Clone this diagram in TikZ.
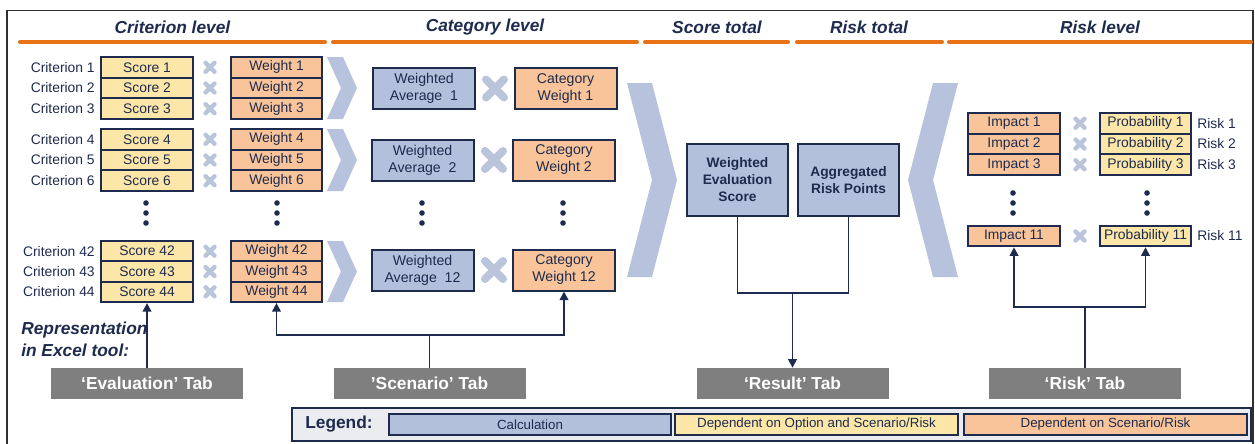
\documentclass[tikz,border=0pt]{standalone}
\usepackage{fontspec}
\setmainfont{Liberation Sans}
\usetikzlibrary{arrows.meta}

\definecolor{inkblue}{HTML}{1E2B4E}
\definecolor{paleyellow}{HTML}{FCE7A8}
\definecolor{paleorange}{HTML}{F9C499}
\definecolor{calcblue}{HTML}{B3C0DC}
\definecolor{chevblue}{HTML}{B7C3DD}
\definecolor{markblue}{HTML}{BAC5DC}
\definecolor{rulecol}{HTML}{E97217}
\definecolor{tabgray}{HTML}{7F7F7F}
\definecolor{legendbg}{HTML}{EBECEF}
\definecolor{framecol}{HTML}{303030}

\tikzset{
  cell/.style={draw=inkblue, line width=1.5pt, inner sep=0pt, text=inkblue,
    font=\fontsize{10.4}{12}\selectfont, align=center},
  ycell/.style={cell, fill=paleyellow, minimum width=69pt, minimum height=15.4pt},
  ocell/.style={cell, fill=paleorange, minimum width=68.25pt, minimum height=15.4pt},
  wcell/.style={cell, fill=paleorange, minimum width=76.5pt, minimum height=30.75pt,
    font=\fontsize{10.6}{12.75}\selectfont},
  acell/.style={cell, fill=calcblue, minimum width=76.5pt, minimum height=30.75pt,
    font=\fontsize{10.6}{12.75}\selectfont},
  totcell/.style={cell, fill=calcblue, minimum width=75.75pt, minimum height=54pt,
    font=\bfseries\fontsize{10.3}{12.75}\selectfont},
  sidelabel/.style={text=inkblue, inner sep=0pt, font=\fontsize{10.4}{12}\selectfont},
  heading/.style={text=inkblue, inner sep=0pt, font=\bfseries\itshape\fontsize{13}{15}\selectfont},
  tabbox/.style={fill=tabgray, text=white, inner sep=0pt, minimum width=144pt,
    minimum height=23.25pt, font=\bfseries\fontsize{13}{15}\selectfont},
  legcell/.style={cell, line width=1.3pt, minimum width=212pt, minimum height=15.75pt,
    font=\fontsize{10}{12}\selectfont},
  levelrule/.style={draw=rulecol, line width=3pt, line cap=round},
  chevron/.style={fill=chevblue},
  conn/.style={draw=inkblue, line width=1.4pt},
  arr/.style={conn, -{Triangle[length=6.5pt,width=6.5pt]}},
  dotmark/.style={fill=inkblue},
  smallx/.pic={\draw[markblue, line width=3.3pt, line cap=round]
    (-4.5,-4.5) -- (4.5,4.5) (-4.5,4.5) -- (4.5,-4.5);},
  bigx/.pic={\draw[markblue, line width=6pt, line cap=round]
    (-9,-9) -- (9,9) (-9,9) -- (9,-9);}
}

\begin{document}
\begin{tikzpicture}[x=0.75pt,y=-0.75pt]
\useasboundingbox (0,0) rectangle (1255,443);

% outer frame
\draw[framecol, line width=1pt] (7,444) -- (7,10.5) -- (1253,10.5) -- (1253,444);

% level headings with their orange rules
\node[heading] (hcrit) at (172.5,27) {Criterion level};
\node[heading] (hcat)  at (485,27)   {Category level};
\node[heading] (hscore) at (717,27)  {Score total};
\node[heading] (hrisk) at (869,27)   {Risk total};
\node[heading] (hrlev) at (1100,27)  {Risk level};
\draw[levelrule] (20,42) -- (325,42);
\draw[levelrule] (333,42) -- (637,42);
\draw[levelrule] (645,42) -- (788,42);
\draw[levelrule] (797,42) -- (942,42);
\draw[levelrule] (949,42) -- (1251,42);

% chevrons between the levels
\foreach \top/\mid/\bot in {57/88/119, 129/160/191, 241/271.5/302} {
  \fill[chevron] (327,\top) -- (343,\top) -- (357,\mid) -- (343,\bot)
    -- (327,\bot) -- (341,\mid) -- cycle;
}
\fill[chevron] (627,83) -- (652,83) -- (677,180) -- (652,277) -- (627,277) -- (652,180) -- cycle;
\fill[chevron] (958,83) -- (933,83) -- (908,180) -- (933,277) -- (958,277) -- (933,180) -- cycle;

% criterion level: scores times weights
\foreach \n/\yy in {1/67.3, 2/88, 3/108.7, 4/139.3, 5/160, 6/180.7, 42/251.2, 43/271.5, 44/291.8} {
  \node[sidelabel, anchor=east] (c\n) at (95,\yy) {Criterion \n};
  \node[ycell] (s\n) at (147,\yy) {Score \n};
  \node[ocell] (w\n) at (276.5,\yy) {Weight \n};
  \pic at (210,\yy) {smallx};
}

% category level
\node[acell] (wa1)  at (424,88.5)  {Weighted\\Average\ \ 1};
\node[acell] (wa2)  at (422.5,160) {Weighted\\Average\ \ 2};
\node[acell] (wa12) at (422.5,270) {Weighted\\Average\ \ 12};
\node[wcell] (cw1)  at (565.5,88.5) {Category\\Weight 1};
\node[wcell] (cw2)  at (564,160)    {Category\\Weight 2};
\node[wcell] (cw12) at (564,270)    {Category\\Weight 12};
\pic at (495,88.5) {bigx};
\pic at (494,160) {bigx};
\pic at (494,270) {bigx};

% vertical ellipses
\foreach \xx in {146, 277, 422, 563} {
  \foreach \yy in {203, 213, 223} { \fill[dotmark] (\xx,\yy) circle (2.8); }
}
\foreach \xx in {1013, 1147} {
  \foreach \yy in {193, 203, 213} { \fill[dotmark] (\xx,\yy) circle (2.8); }
}

% totals
\node[totcell] (wes) at (737.5,180) {Weighted\\Evaluation\\Score};
\node[totcell] (arp) at (848.5,180) {Aggregated\\Risk Points};

% risk level: impacts times probabilities
\foreach \n/\yy in {1/123.3, 2/144, 3/164.7, 11/236} {
  \node[ocell, minimum width=69pt] (imp\n) at (1014,\yy) {Impact \n};
  \node[ycell, minimum width=68.25pt] (prob\n) at (1145.5,\yy) {Probability \n};
  \node[sidelabel, anchor=west] (r\n) at (1197,\yy) {Risk \n};
  \pic at (1080,\yy) {smallx};
}

% Excel tabs
\node[text=inkblue, inner sep=0pt, align=left, anchor=west,
  font=\bfseries\itshape\fontsize{13}{16.5}\selectfont] (repr) at (21,339)
  {Representation\\in Excel tool:};
\node[tabbox] (evaltab) at (147,383.5)  {‘Evaluation’ Tab};
\node[tabbox] (scentab) at (429.5,383.5) {’Scenario’ Tab};
\node[tabbox] (restab)  at (792.5,383.5) {‘Result’ Tab};
\node[tabbox] (risktab) at (1085,383.5)  {‘Risk’ Tab};

% connectors
\draw[arr] (evaltab.north) -- (s44.south);

\coordinate (scenjoin) at (429.5,335);
\draw[conn] (scentab.north) -- (scenjoin);
\draw[arr] (scenjoin) -| (w44.south);
\draw[arr] (scenjoin) -| (cw12.south);

\coordinate (resjoin) at (792.5,293);
\draw[conn] (wes.south) |- (resjoin);
\draw[conn] (arp.south) |- (resjoin);
\draw[arr] (resjoin) -- (restab.north);

\coordinate (riskjoin) at (1085,307);
\draw[conn] (risktab.north) -- (riskjoin);
\draw[arr] (riskjoin) -| (imp11.south);
\draw[arr] (riskjoin) -| (prob11.south);

% legend
\node[draw=inkblue, line width=1.2pt, fill=legendbg, minimum width=719.25pt,
  minimum height=24.75pt, inner sep=0pt] (legend) at (771.5,424.5) {};
\node[text=inkblue, inner sep=0pt, anchor=west,
  font=\bfseries\fontsize{13}{15}\selectfont] (legtitle) at (305,424.5) {Legend:};
\node[legcell, fill=calcblue, minimum width=211.5pt] (lcalc) at (530,424.5) {Calculation};
\node[legcell, fill=paleyellow] (lopt) at (816.5,424.5) {Dependent on Option and Scenario/Risk};
\node[legcell, fill=paleorange] (lscen) at (1105.5,424.5) {Dependent on Scenario/Risk};
\end{tikzpicture}
\end{document}
